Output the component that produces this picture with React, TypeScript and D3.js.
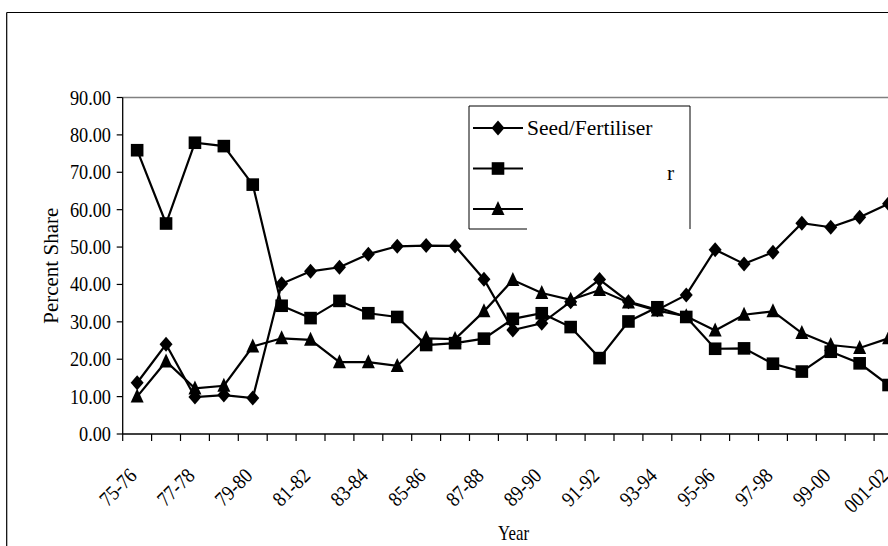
import React from "react";
import * as d3 from "d3";

const categories = [
  "75-76", "76-77", "77-78", "78-79", "79-80", "80-81", "81-82", "82-83", "83-84",
  "84-85", "85-86", "86-87", "87-88", "88-89", "89-90", "90-91", "91-92", "92-93",
  "93-94", "94-95", "95-96", "96-97", "97-98", "98-99", "99-00", "00-01", "001-02",
];
const tickLabelCategories = categories.filter((_, i) => i % 2 === 0);

const seedFertiliser = [
  13.7, 24.0, 9.9, 10.4, 9.6, 40.2, 43.5, 44.6, 48.1, 50.2, 50.4, 50.3, 41.4, 27.8,
  29.6, 35.4, 41.3, 35.4, 33.2, 37.2, 49.3, 45.5, 48.6, 56.4, 55.3, 58.0, 61.6,
];
const series2 = [
  75.9, 56.3, 77.9, 77.0, 66.7, 34.3, 31.0, 35.6, 32.3, 31.3, 23.8, 24.3, 25.5, 30.8,
  32.3, 28.6, 20.3, 30.1, 33.9, 31.3, 22.8, 22.9, 18.8, 16.7, 22.0, 18.9, 13.1,
];
const series3 = [
  10.0, 19.4, 12.2, 12.9, 23.4, 25.6, 25.2, 19.2, 19.2, 18.2, 25.6, 25.4, 32.8, 41.2,
  37.7, 35.9, 38.5, 35.2, 33.0, 31.5, 27.7, 31.9, 32.8, 27.0, 23.8, 23.0, 25.6,
];
const yTicks = [0, 10, 20, 30, 40, 50, 60, 70, 80, 90];
const legendLabels = ["Seed/Fertiliser", "r", ""];
const yTitle = "Percent Share";
const xTitle = "Year";

const FONT = "'Liberation Serif', 'Times New Roman', serif";

export default function App() {
  const W = 888;
  const H = 546;
  const left = 122.7;
  const top = 97.5;
  const bottom = 434;
  const step = 28.9;

  const x = d3
    .scaleBand<string>()
    .domain(categories)
    .range([left, left + step * categories.length])
    .paddingInner(0)
    .paddingOuter(0);
  const cx = (c: string) => (x(c) as number) + x.bandwidth() / 2;
  const y = d3.scaleLinear().domain([0, 90]).range([bottom, top]);

  const line = d3
    .line<number>()
    .x((_, i) => cx(categories[i]))
    .y((d) => y(d));

  const diamond = (px: number, py: number, k: string | number) => (
    <path
      key={k}
      d={`M${px},${py - 7.5}L${px + 6.5},${py}L${px},${py + 7.5}L${px - 6.5},${py}Z`}
      fill="#000"
    />
  );
  const square = (px: number, py: number, k: string | number) => (
    <rect key={k} x={px - 6.3} y={py - 6.3} width={12.6} height={12.6} fill="#000" />
  );
  const triangle = (px: number, py: number, k: string | number) => (
    <path
      key={k}
      d={`M${px},${py - 8}L${px + 6.5},${py + 6}L${px - 6.5},${py + 6}Z`}
      fill="#000"
    />
  );

  const series = [
    { values: seedFertiliser, marker: diamond },
    { values: series2, marker: square },
    { values: series3, marker: triangle },
  ];

  const boundaries = d3.range(categories.length + 1).map((i) => left + i * step);

  const legendRows = [128, 168.5, 209];
  const markers = [diamond, square, triangle];

  return (
    <svg
      width={W}
      height={H}
      style={{ position: "absolute", left: 0, top: 0, display: "block", background: "#fff" }}
      fontFamily={FONT}
    >
      <rect x={0} y={0} width={W} height={H} fill="#fff" />
      {/* chart border (left and top visible) */}
      <line x1={6.7} y1={12.5} x2={6.7} y2={H + 5} stroke="#000" strokeWidth={1.2} />
      <line x1={6.7} y1={12.5} x2={W + 5} y2={12.5} stroke="#000" strokeWidth={1.2} />

      {/* top plot border */}
      <line x1={left} y1={top} x2={W + 5} y2={top} stroke="#808080" strokeWidth={1.6} />

      {/* y axis */}
      <line x1={left} y1={top} x2={left} y2={bottom} stroke="#000" strokeWidth={1.3} />
      {yTicks.map((t) => (
        <g key={t}>
          <line x1={left - 6} y1={y(t)} x2={left} y2={y(t)} stroke="#000" strokeWidth={1.2} />
          <text
            transform={`translate(${111},${y(t) + 7}) scale(0.87,1)`}
            textAnchor="end"
            fontSize={21}
            fill="#000"
          >
            {t.toFixed(2)}
          </text>
        </g>
      ))}

      {/* x axis */}
      <line x1={left} y1={bottom} x2={W + 5} y2={bottom} stroke="#000" strokeWidth={1.3} />
      {boundaries.map((b, i) => (
        <line key={i} x1={b} y1={bottom} x2={b} y2={bottom + 7} stroke="#000" strokeWidth={1.2} />
      ))}
      {tickLabelCategories.map((c) => (
        <text
          key={c}
          transform={`translate(${cx(c) + 1},${477}) rotate(-45) scale(0.88,1)`}
          textAnchor="end"
          fontSize={21}
          fill="#000"
        >
          {c}
        </text>
      ))}

      {/* series */}
      {series.map((s, si) => (
        <g key={si}>
          <path d={line(s.values) || ""} fill="none" stroke="#000" strokeWidth={2.2} />
          {s.values.map((v, i) => s.marker(cx(categories[i]), y(v), i))}
        </g>
      ))}

      {/* titles */}
      <text
        transform={`translate(58,${(top + bottom) / 2}) rotate(-90)`}
        textAnchor="middle"
        fontSize={21}
        fill="#000"
      >
        {yTitle}
      </text>
      <text
        transform={`translate(513.5,540) scale(0.8,1)`}
        textAnchor="middle"
        fontSize={21}
        fill="#000"
      >
        {xTitle}
      </text>

      {/* legend */}
      <rect x={469} y={106} width={221} height={123} fill="#fff" />
      <line x1={469} y1={106} x2={690} y2={106} stroke="#000" strokeWidth={1} />
      <line x1={469} y1={106} x2={469} y2={229} stroke="#000" strokeWidth={1} />
      <line x1={690} y1={106} x2={690} y2={229} stroke="#000" strokeWidth={1} />
      <line x1={469} y1={229} x2={527} y2={229} stroke="#000" strokeWidth={1} />
      {legendRows.map((ry, i) => (
        <g key={i}>
          <line x1={473} y1={ry} x2={523} y2={ry} stroke="#000" strokeWidth={2.2} />
          {markers[i](498, ry, "m" + i)}
        </g>
      ))}
      <text x={527} y={135} fontSize={21.5} fill="#000">
        {legendLabels[0]}
      </text>
      <text x={667} y={180} fontSize={21.5} fill="#000">
        {legendLabels[1]}
      </text>
      <text x={527} y={216} fontSize={21.5} fill="#000">
        {legendLabels[2]}
      </text>
    </svg>
  );
}
